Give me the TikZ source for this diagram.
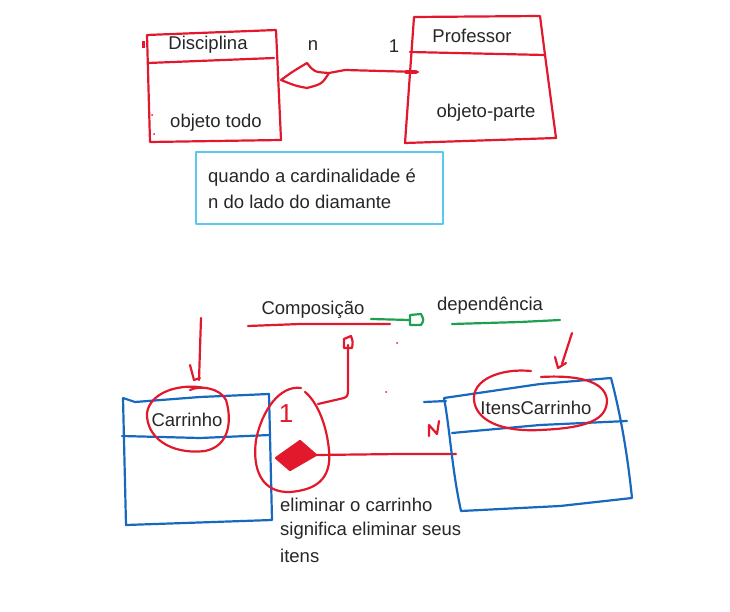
\documentclass[tikz,border=0pt]{standalone}
\usepackage{fontspec}
\setmainfont{Liberation Sans}
\usetikzlibrary{calc}
\definecolor{pen}{RGB}{226,24,44}
\definecolor{bpen}{RGB}{24,104,192}
\definecolor{cpen}{RGB}{90,200,240}
\definecolor{gpen}{RGB}{30,160,80}
\begin{document}
\begin{tikzpicture}[x=1pt,y=-1pt,line cap=round,line join=round,
  redline/.style={draw=pen,line width=2.2pt},
  blueline/.style={draw=bpen,line width=2.2pt},
  greenline/.style={draw=gpen,line width=2.2pt},
  txt/.style={font=\fontsize{18.5}{20}\selectfont,text=black!85,inner sep=0pt},
  rtxt/.style={font=\fontsize{26}{28}\selectfont,text=pen,inner sep=0pt}]
\useasboundingbox (0,0) rectangle (730,612);
% ---------- Disciplina
\draw[redline] (147,35) -- (276,30) -- (281,140) -- (150,142) -- (147,35);
\draw[redline] (148,63) -- (274,58);
\fill[pen] (142,41) rectangle (144.5,48);
\fill[pen] (152,115) circle (1);
\fill[pen] (154,134) circle (1);
\node[txt] (disc) at (208,45) {Disciplina};
\node[txt] (todo) at (216,123) {objeto todo};
% ---------- Professor
\draw[redline] (414,17) -- (540,16) -- (545,55) -- (556,138) -- (405,143) -- (414,17);
\draw[redline] (410,52) -- (545,55);
\node[txt] (prof) at (472,36) {Professor};
\node[txt] (parte) at (486,113) {objeto-parte};
% aggregation
\coordinate (dl) at (281,80);
\coordinate (dt) at (307,63);
\coordinate (dr) at (329,73);
\coordinate (db) at (307,88);
\draw[redline] (dl) .. controls (292,72) .. (dt) .. controls (314,72) .. (dr) .. controls (322,84) .. (db) .. controls (296,86) .. (dl);
\coordinate (pend) at (418,72);
\draw[redline] (dr) -- (345,70) -- (pend);
\draw[pen,line width=3.4pt] (406,72) -- (416,72);
\node[txt] (n) at (313,46) {n};
\node[txt] (one) at (394,46) {1};
% note
\draw[cpen,line width=1.5pt] (196,152) rectangle (443,224);
\node[txt,anchor=west] (q1) at (208,178) {quando a cardinalidade é};
\node[txt,anchor=west] (q2) at (208,202) {n do lado do diamante};
% ---------- Composicao / dependencia
\node[txt] (comp) at (313,310) {Composição};
\draw[redline] (248,326) -- (300,324) -- (390,324);
\node[txt] (dep) at (490,306) {dependência};
\draw[greenline] (452,324) -- (520,322) -- (560,320);
\draw[greenline] (371,319) -- (410,320);
\draw[greenline] (410,315) -- (421,314) .. controls (424,320) .. (421,325) -- (410,325) -- cycle;
% arrow to Carrinho
\draw[redline] (201,318) -- (199,380);
\draw[redline] (190,365) -- (194,380) -- (200,378);
% Carrinho box
\draw[blueline] (123,398) -- (135,402) -- (200,397) -- (269,394) -- (272,520) -- (126,525) -- (123,398);
\draw[blueline] (122,436) -- (200,438) -- (270,435);
\node[txt] (carr) at (187,420) {Carrinho};
\draw[redline] (205,388) .. controls (180,383) and (150,392) .. (147,413)
  .. controls (146,437) and (170,455) .. (205,451)
  .. controls (230,446) and (232,420) .. (226,400)
  .. controls (220,388) and (200,385) .. (190,390);
% egg around 1
\draw[redline] (301,388) .. controls (280,385) and (262,410) .. (256,440)
  .. controls (252,470) and (262,493) .. (290,492)
  .. controls (315,490) and (332,480) .. (329,450)
  .. controls (326,420) and (315,400) .. (305,392);
\node[rtxt] (r1) at (286,414) {1};
% filled diamond
\coordinate (fl) at (276,458);
\coordinate (ft) at (300,441);
\coordinate (fr) at (316,455);
\coordinate (fb) at (290,470);
\fill[pen] (fl) -- (ft) -- (fr) -- (fb) -- cycle;
\draw[redline] (fl) -- (ft) -- (fr) -- (fb) -- cycle;
\coordinate (iend) at (456,454);
\draw[redline] (fr) -- (400,454) -- (iend);
% arrow to Composicao
\draw[redline] (318,404) -- (344,398) .. controls (348,396) .. (348,385) -- (348,345);
\draw[redline] (344,348) -- (344,339) -- (351,336) .. controls (353,342) .. (352,348) -- cycle;
% dots
\fill[pen] (397,343) circle (1);
\fill[pen] (386,392) circle (1);
% N
\draw[redline] (429,436) -- (429,425) -- (437,434) -- (439,421);
% ItensCarrinho box
\draw[blueline] (424,402) -- (446,401);
\draw[blueline] (444,398) -- (540,384) -- (611,378) .. controls (622,420) and (628,460) .. (632,498) -- (560,506) -- (461,511) .. controls (452,470) and (450,430) .. (444,398);
\draw[blueline] (452,433) -- (540,425) -- (627,421);
\node[txt] (itens) at (536,408) {ItensCarrinho};
\draw[redline] (531,371) .. controls (500,368) and (472,380) .. (474,400)
  .. controls (476,420) and (500,432) .. (540,430)
  .. controls (587,428) and (607,420) .. (607,400)
  .. controls (605,380) and (575,375) .. (541,377);
\draw[redline] (572,333) -- (562,364);
\draw[redline] (555,357) -- (558,368) -- (566,363);
% caption
\node[txt,anchor=west] (e1) at (280,505) {eliminar o carrinho};
\node[txt,anchor=west] (e2) at (280,531) {significa eliminar seus};
\node[txt,anchor=west] (e3) at (280,556) {itens};
\end{tikzpicture}
\end{document}
